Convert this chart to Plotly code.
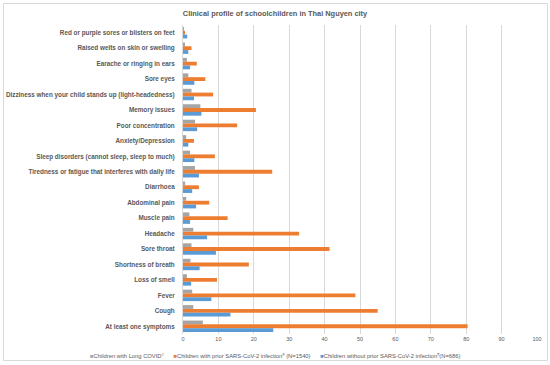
import plotly.graph_objects as go

categories = [
    "Red or purple sores or blisters on feet",
    "Raised welts on skin or swelling",
    "Earache or ringing in ears",
    "Sore eyes",
    "Dizziness when your child stands up (light-headedness)",
    "Memory issues",
    "Poor concentration",
    "Anxiety/Depression",
    "Sleep disorders (cannot sleep, sleep to much)",
    "Tiredness or fatigue that interferes with daily life",
    "Diarrhoea",
    "Abdominal pain",
    "Muscle pain",
    "Headache",
    "Sore throat",
    "Shortness of breath",
    "Loss of smell",
    "Fever",
    "Cough",
    "At least one symptoms",
]

long_covid = [0.2, 0.5, 1.1, 1.5, 2.4, 4.9, 3.4, 0.9, 2.0, 3.4, 0.6, 0.9, 1.8, 2.9, 2.4, 2.1, 1.1, 2.6, 2.9, 5.6]
prior_infection = [0.5, 2.4, 3.9, 6.3, 8.5, 20.6, 15.3, 3.1, 9.0, 25.2, 4.5, 7.4, 12.6, 32.8, 41.4, 18.6, 9.6, 48.7, 55.0, 80.4]
no_prior_infection = [1.2, 1.5, 2.0, 3.2, 3.1, 5.2, 4.0, 1.5, 3.2, 4.5, 2.6, 3.7, 2.0, 6.8, 9.3, 4.7, 2.3, 8.0, 13.4, 25.5]

series_names = [
    "Children with Long COVID<sup>#</sup>",
    "Children with prior SARS-CoV-2 infection<sup>§</sup> (N=1540)",
    "Children without prior SARS-CoV-2 infection<sup>¶</sup>(N=686)",
]
colors = ["#A5A5A5", "#ED7D31", "#5B9BD5"]

x_ticks = list(range(0, 101, 10))

fig = go.Figure()
for name, vals, c in zip(series_names, [long_covid, prior_infection, no_prior_infection], colors):
    fig.add_trace(go.Bar(
        y=categories, x=vals, name=name, orientation="h",
        marker=dict(color=c, line=dict(width=0)),
        showlegend=False,
    ))

# plot area geometry in px
L, R, T, B = 183, 537, 25, 334
W, H = 550, 365

def px2x(px):
    return (px - L) / (R - L)

def py2y(py):
    return (B - py) / (B - T)

fig.update_layout(
    width=W, height=H,
    margin=dict(l=L, r=W - R, t=T, b=H - B, pad=0, autoexpand=False),
    paper_bgcolor="white", plot_bgcolor="white",
    barmode="group", bargap=0.26, bargroupgap=0,
    font=dict(family="Liberation Sans, Arial, sans-serif", color="#595959"),
    title=dict(
        text="<b>Clinical profile of schoolchildren in Thai Nguyen city</b>",
        x=0.5, xanchor="center", xref="container",
        y=1 - 13 / H, yanchor="middle", yref="container",
        font=dict(size=7.4, color="#595959"),
    ),
    xaxis=dict(
        range=[0, 100], tickvals=x_ticks, ticktext=[str(t) for t in x_ticks],
        showgrid=True, gridcolor="#D9D9D9", gridwidth=1,
        zeroline=False, showline=False, ticks="",
        tickfont=dict(size=5.5, color="#595959"),
        automargin=False, fixedrange=True,
    ),
    yaxis=dict(
        autorange="reversed", showgrid=False, zeroline=False,
        showline=True, linecolor="#D9D9D9", linewidth=1,
        ticks="", ticklabelstandoff=6, automargin=False,
        tickfont=dict(size=6.35, color="#595959", family="Liberation Sans, Arial, sans-serif", weight="bold"),
    ),
    showlegend=False,
)

# manual legend line (small coloured squares + names)
legend_parts = []
for name, c in zip(series_names, colors):
    legend_parts.append(f"<span style='color:{c}'>■</span>{name}")
fig.add_annotation(
    text="&nbsp;&nbsp;&nbsp;&nbsp;&nbsp;&nbsp;".join(legend_parts),
    xref="paper", yref="paper", x=px2x(275), y=py2y(355),
    xanchor="center", yanchor="middle", showarrow=False,
    font=dict(size=5.8, color="#595959"),
)

fig.add_shape(
    type="rect", xref="paper", yref="paper",
    x0=px2x(3.5), x1=px2x(547.5), y0=py2y(360.5), y1=py2y(3.5),
    line=dict(color="#D9D9D9", width=1), fillcolor="rgba(0,0,0,0)", layer="below",
)

fig.write_html(
    "out.html",
    config={"displayModeBar": False},
    post_script="document.body.style.margin='0';document.body.style.padding='0';document.body.style.overflow='hidden';",
)
